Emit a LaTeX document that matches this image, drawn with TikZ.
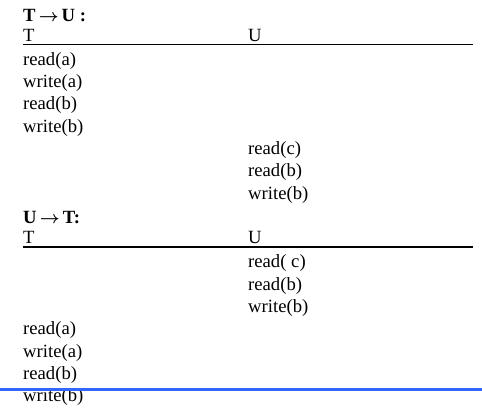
\documentclass[tikz,border=0pt]{standalone}
\usepackage{fontspec}
\setmainfont{Liberation Serif}
\definecolor{ruleblue}{RGB}{51,102,255}
\newcommand{\myarrow}{\,{\boldmath$\rightarrow$}\,}
\begin{document}
\begin{tikzpicture}[x=1pt,y=-1pt,
  txt/.style={anchor=base west, inner sep=0pt, font=\fontsize{18.67}{22}\selectfont},
  ttl/.style={anchor=base west, inner sep=0pt, font=\fontsize{18.67}{22}\selectfont\bfseries},
  hrule/.style={line width=1.2pt, black},
  bluerule/.style={line width=3pt, ruleblue}]
\useasboundingbox (0,0) rectangle (482,418);
% section 1
\node[ttl] (t1) at (23,21.5) {T\myarrow U :};
\node[txt] (h1T) at (23,41.5) {T};
\node[txt] (h1U) at (248,41.5) {U};
\coordinate (l1a) at (23,44.5);
\coordinate (l1b) at (472.5,44.5);
\draw[hrule] (l1a) -- (l1b);
\node[txt] (a1) at (23,65.2) {read(a)};
\node[txt] (a2) at (23,87.5) {write(a)};
\node[txt] (a3) at (23,109.8) {read(b)};
\node[txt] (a4) at (23,132.1) {write(b)};
\node[txt] (b1) at (248,154.4) {read(c)};
\node[txt] (b2) at (248,176.7) {read(b)};
\node[txt] (b3) at (248,199.0) {write(b)};
% section 2
\node[ttl] (t2) at (23,223.5) {U\myarrow T:};
\node[txt] (h2T) at (23,243.5) {T};
\node[txt] (h2U) at (248,243.5) {U};
\coordinate (l2a) at (23,247);
\coordinate (l2b) at (472.5,247);
\draw[hrule] (l2a) -- (l2b);
\node[txt] (c1) at (248,267.8) {read( c)};
\node[txt] (c2) at (248,290.1) {read(b)};
\node[txt] (c3) at (248,312.4) {write(b)};
\node[txt] (d1) at (23,334.7) {read(a)};
\node[txt] (d2) at (23,357.0) {write(a)};
\node[txt] (d3) at (23,379.3) {read(b)};
\node[txt] (d4) at (23,401.6) {write(b)};
\coordinate (bl1) at (0,389.3);
\coordinate (bl2) at (482,389.3);
\draw[bluerule] (bl1) -- (bl2);
\end{tikzpicture}
\end{document}
